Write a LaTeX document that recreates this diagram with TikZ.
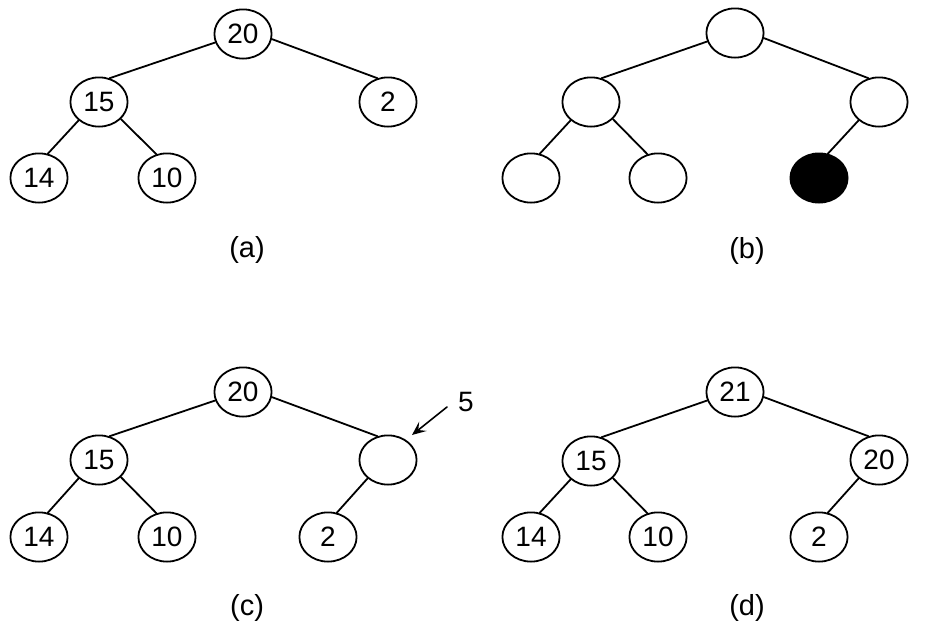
\documentclass[tikz,border=0pt]{standalone}
\usepackage{fontspec}
\setmainfont{Liberation Sans}
\usetikzlibrary{arrows,arrows.meta,shapes.geometric}

\begin{document}
\begin{tikzpicture}[line cap=round,line join=round,>={Stealth[length=7pt,width=6pt,inset=3pt]},x=0.5pt,y=-0.5pt,
  heapnode/.style={draw,ellipse,line width=0.9pt,minimum width=28.6pt,minimum height=24.6pt,inner sep=0pt,font=\fontsize{14}{16}\selectfont},
  heapedge/.style={line width=0.9pt},
  caption/.style={font=\fontsize{14.5}{17}\selectfont}]
\useasboundingbox (0,0) rectangle (932,632);
% (a)
\node[heapnode] (a1) at (243,34) {20};
\node[heapnode] (a2) at (99,102) {15};
\node[heapnode] (a3) at (388,102) {2};
\node[heapnode] (a4) at (39,178) {14};
\node[heapnode] (a5) at (167,178) {10};
\draw[heapedge] (a1.197) -- (a2.66);
\draw[heapedge] (a1.350) -- (a3.114);
\draw[heapedge] (a2.222) -- (a4.70);
\draw[heapedge] (a2.322) -- (a5.114);
\node[caption] (capa) at (247,250) {(a)};
% (b)
\node[heapnode] (b1) at (735,33) {};
\node[heapnode] (b2) at (591,102) {};
\node[heapnode] (b3) at (879,102) {};
\node[heapnode] (b4) at (531,178) {};
\node[heapnode] (b5) at (658,178) {};
\node[heapnode,fill=black] (b6) at (819,178) {};
\draw[heapedge] (b1.197) -- (b2.66);
\draw[heapedge] (b1.350) -- (b3.114);
\draw[heapedge] (b2.222) -- (b4.70);
\draw[heapedge] (b2.322) -- (b5.114);
\draw[heapedge] (b3.222) -- (b6.70);
\node[caption] (capb) at (747,251) {(b)};
% (c)
\node[heapnode] (c1) at (243,392) {20};
\node[heapnode] (c2) at (99,460) {15};
\node[heapnode] (c3) at (388,460) {};
\node[heapnode] (c4) at (39,537) {14};
\node[heapnode] (c5) at (167,537) {10};
\node[heapnode] (c6) at (328,537) {2};
\draw[heapedge] (c1.197) -- (c2.66);
\draw[heapedge] (c1.350) -- (c3.114);
\draw[heapedge] (c2.222) -- (c4.70);
\draw[heapedge] (c2.322) -- (c5.114);
\draw[heapedge] (c3.222) -- (c6.70);
\coordinate (newtail) at (447,407);
\coordinate (newtip) at (412,435);
\draw[->,line width=0.8pt] (newtail) -- (newtip);
\node[heapnode,draw=none] (newval) at (466,402) {5};
\node[caption] (capc) at (247,608) {(c)};
% (d)
\node[heapnode] (d1) at (735,392) {21};
\node[heapnode] (d2) at (591,461) {15};
\node[heapnode] (d3) at (879,460) {20};
\node[heapnode] (d4) at (531,537) {14};
\node[heapnode] (d5) at (658,537) {10};
\node[heapnode] (d6) at (819,537) {2};
\draw[heapedge] (d1.197) -- (d2.66);
\draw[heapedge] (d1.350) -- (d3.114);
\draw[heapedge] (d2.222) -- (d4.70);
\draw[heapedge] (d2.322) -- (d5.114);
\draw[heapedge] (d3.222) -- (d6.70);
\node[caption] (capd) at (747,608) {(d)};
\end{tikzpicture}
\end{document}
